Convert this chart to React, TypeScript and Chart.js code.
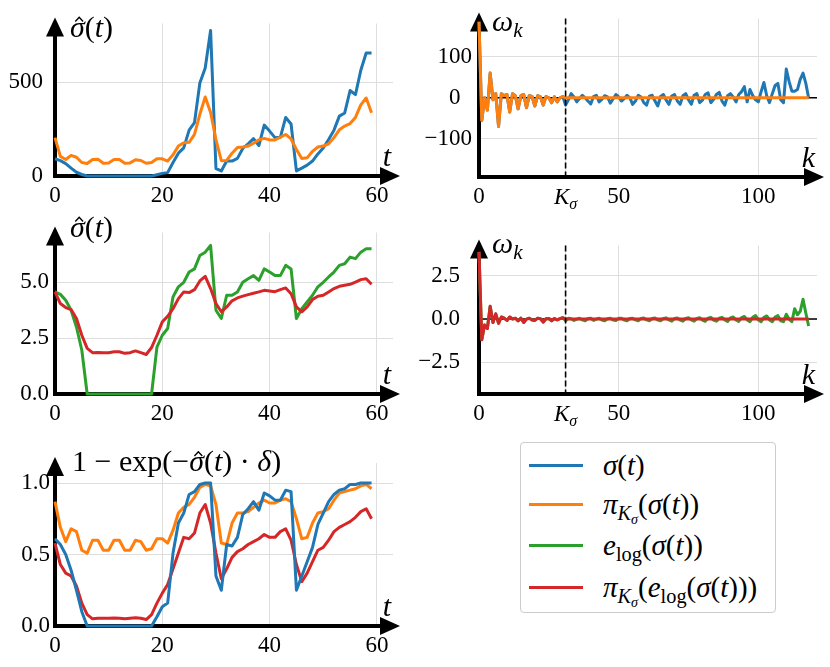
import React, { useEffect, useRef } from 'react';
import { Chart, registerables } from 'chart.js';

Chart.register(...registerables);

// ---------------- data ----------------
const tIndex = Array.from({ length: 60 }, (_, i) => i);
const kIndex = Array.from({ length: 119 }, (_, i) => i);
const K_SIGMA = 31;

// sigma(t)
const sigma = [92, 82, 66, 42, 20, 8, 0, 0, 0, 0, 0, 0, 0, 0, 0, 0, 0, 0, 0, 7, 14, 18, 72, 122, 150, 245, 285, 497, 577, 778,
  40, 27, 80, 80, 94, 147, 172, 200, 163, 272, 240, 205, 207, 313, 278, 27, 42, 58, 80, 118, 150, 195, 245, 320, 337, 457, 435, 565, 657, 657];
// pi_K(sigma(t))
const piSigma = [205, 105, 88, 110, 100, 72, 67, 88, 90, 68, 70, 88, 88, 68, 70, 87, 83, 68, 72, 92, 92, 80, 113, 160, 177, 180, 222, 330, 422, 340,
  195, 82, 83, 122, 152, 155, 160, 175, 193, 201, 193, 193, 207, 222, 198, 142, 93, 97, 132, 155, 160, 172, 205, 247, 267, 280, 313, 380, 417, 338];
// e_log(sigma(t))
const logSigma = [4.57, 4.46, 4.2, 3.75, 3.0, 1.96, 0, 0, 0, 0, 0, 0, 0, 0, 0, 0, 0, 0, 0, 2.1, 2.63, 2.93, 4.35, 4.8, 5.0, 5.46, 5.6, 6.2, 6.35, 6.65,
  3.75, 3.38, 4.42, 4.42, 4.57, 5.0, 5.16, 5.3, 5.09, 5.6, 5.46, 5.3, 5.3, 5.76, 5.6, 3.38, 3.82, 4.12, 4.42, 4.8, 5.0, 5.24, 5.46, 5.76, 5.83, 6.13, 6.06, 6.35, 6.5, 6.5];
// pi_K(e_log(sigma(t)))
const piLogSigma = [4.57, 4.05, 3.87, 3.78, 3.38, 2.63, 2.04, 1.85, 1.86, 1.85, 1.85, 1.89, 1.89, 1.82, 1.85, 1.93, 1.85, 1.77, 2.08, 2.63,
  3.23, 3.48, 3.82, 4.27, 4.57, 4.54, 4.67, 5.06, 5.27, 4.72, 4.05, 3.68, 3.9, 4.17, 4.3, 4.38, 4.45, 4.51, 4.57, 4.64,
  4.61, 4.58, 4.67, 4.75, 4.49, 3.9, 3.68, 3.9, 4.23, 4.38, 4.42, 4.57, 4.72, 4.82, 4.87, 4.91, 5.01, 5.12, 5.16, 4.91];
// 1 - exp(-sigma * delta) for the three signals
const expSigma = [0.61, 0.57, 0.5, 0.39, 0.25, 0.1, 0, 0, 0, 0, 0, 0, 0, 0, 0, 0, 0, 0, 0, 0.065, 0.135, 0.16, 0.51, 0.72, 0.79, 0.92, 0.94, 0.99, 1.0, 1.0,
  0.35, 0.25, 0.57, 0.56, 0.62, 0.78, 0.82, 0.87, 0.81, 0.93, 0.91, 0.88, 0.88, 0.95, 0.94, 0.25, 0.35, 0.45, 0.55, 0.71, 0.79, 0.87, 0.92, 0.95, 0.96, 0.99, 0.99, 1.0, 1.0, 1.0];
const expPiSigma = [0.87, 0.69, 0.59, 0.68, 0.66, 0.53, 0.51, 0.6, 0.6, 0.53, 0.53, 0.6, 0.6, 0.53, 0.53, 0.6, 0.59, 0.53, 0.54, 0.61,
  0.61, 0.58, 0.67, 0.79, 0.83, 0.85, 0.9, 0.97, 0.99, 0.98, 0.85, 0.58, 0.57, 0.72, 0.79, 0.79, 0.8, 0.83, 0.86, 0.88,
  0.86, 0.86, 0.88, 0.89, 0.87, 0.75, 0.61, 0.62, 0.72, 0.79, 0.8, 0.82, 0.88, 0.93, 0.94, 0.95, 0.96, 0.98, 0.99, 0.96];
const expPiLogSigma = [0.58, 0.43, 0.37, 0.35, 0.28, 0.16, 0.08, 0.05, 0.054, 0.054, 0.054, 0.056, 0.054, 0.05, 0.054, 0.058, 0.054, 0.045, 0.08, 0.16,
  0.23, 0.29, 0.4, 0.51, 0.62, 0.61, 0.65, 0.79, 0.85, 0.72, 0.51, 0.33, 0.4, 0.48, 0.52, 0.54, 0.57, 0.59, 0.61, 0.64,
  0.62, 0.62, 0.66, 0.68, 0.6, 0.43, 0.31, 0.37, 0.45, 0.53, 0.55, 0.6, 0.66, 0.69, 0.71, 0.73, 0.76, 0.8, 0.82, 0.75];

// spectrum of sigma: k = 0..30 (kept by pi_K) and k = 31..118
const omegaHead = [185, -55, 0, -30, 60, -5, 10, -70, 10, 5, 8, -35, 10, 5, -27, 5, 8, -24, 5, 3, -20, 5, 2, -18, 3, 0, -12, 2, -10, 0, 3];
const omegaTail = [-18, -5, 10, 2, -10, -2, 6, 0, -8, -15,
  3, 6, -10, -4, 5, 2, -13, -3, 8, 2,
  -8, -2, 6, 0, -16, -8, 6, 2, -12, -18,
  4, 6, -8, -20, 3, 8, -6, -16, 4, 8,
  -8, -16, 5, 10, -5, -16, 6, 10, -12, -6,
  8, 12, -12, -4, 8, 13, -8, -18, 5, 10,
  2, -10, 8, 15, 27, -10, 20, 5, -5, -10,
  15, 37, 5, -12, 10, 30, 35, -5, -12, 70,
  40, 16, 16, 20, 45, 60, 35, 0];
// spectrum of e_log(sigma)
const omegaLogHead = [3.9, -1.2, -0.35, -0.55, 0.75, -0.2, 0.3, -0.25, 0.12, 0.05, -0.08, 0.12, 0.0, 0.05, -0.1, 0.05, -0.2, 0.0, 0.05, -0.05,
  -0.08, 0.05, 0.02, -0.18, 0.02, 0.03, -0.1, 0.03, -0.05, 0.02, 0.08];
const omegaLogTail = [-0.1, 0.05, 0.02, -0.08, 0.0, 0.05, -0.05, -0.1, 0.03, 0.05,
  -0.08, 0.0, 0.05, -0.06, -0.1, 0.02, 0.05, -0.05, -0.08, 0.04,
  0.05, -0.06, -0.1, 0.03, 0.05, -0.05, -0.1, 0.04, 0.06, -0.05,
  -0.1, 0.03, 0.06, -0.06, -0.1, 0.03, 0.07, -0.05, -0.12, 0.03,
  0.06, -0.06, -0.12, 0.04, 0.08, -0.05, -0.12, 0.04, 0.08, -0.06,
  -0.13, 0.05, 0.1, -0.06, -0.12, 0.05, 0.1, -0.05, -0.14, 0.06,
  0.12, -0.05, -0.14, 0.08, 0.15, -0.05, -0.15, 0.1, 0.2, -0.05,
  -0.15, 0.1, 0.18, -0.05, -0.15, 0.12, 0.2, -0.1, -0.15, 0.28,
  0.0, -0.15, 0.6, 0.25, 0.45, 1.15, 0.35, -0.4];

const omegaSigma = omegaHead.concat(omegaTail);
const omegaPiSigma = omegaHead.concat(omegaTail.map(() => 0));
const omegaLog = omegaLogHead.concat(omegaLogTail);
const omegaPiLog = omegaLogHead.concat(omegaLogTail.map(() => 0));

// ticks
const tTicks = [0, 20, 40, 60];
const tTickLabels = ['0', '20', '40', '60'];
const kTicks = [0, K_SIGMA, 50, 100];
const kTickLabels = ['0', '', '50', '100'];
const sigmaTicks = [0, 500];
const sigmaTickLabels = ['0', '500'];
const logTicks = [0, 2.5, 5];
const logTickLabels = ['0.0', '2.5', '5.0'];
const expTicks = [0, 0.5, 1];
const expTickLabels = ['0.0', '0.5', '1.0'];
const omegaTicks = [-100, 0, 100];
const omegaTickLabels = ['\u2212100', '0\u2007', '100'];
const omegaLogTicks = [-2.5, 0, 2.5];
const omegaLogTickLabels = ['\u22122.5', '0.0', '2.5'];

// ---------------- style ----------------
const BLUE = '#1f77b4';
const ORANGE = '#ff7f0e';
const GREEN = '#2ca02c';
const RED = '#d62728';
const GRID = '#dedede';
const FONT = '"Liberation Serif", "DejaVu Serif", serif';
const TICK_SIZE = 23;
const LABEL_SIZE = 30;

type Piece = { t: string; it?: boolean; sub?: boolean; hat?: boolean };

const SIGMA_HAT_T: Piece[] = [{ t: '\u03C3', it: true, hat: true }, { t: '(' }, { t: 't', it: true }, { t: ')' }];
const OMEGA_K: Piece[] = [{ t: '\u03C9', it: true }, { t: 'k', it: true, sub: true }];
const EXP_LABEL: Piece[] = [
  { t: '1 \u2212 exp(\u2212' }, { t: '\u03C3', it: true, hat: true }, { t: '(' }, { t: 't', it: true },
  { t: ') \u00B7 ' }, { t: '\u03B4', it: true }, { t: ')' },
];
const K_SIGMA_LABEL: Piece[] = [{ t: 'K', it: true }, { t: '\u03C3', it: true, sub: true }];

function drawMath(ctx: CanvasRenderingContext2D, pieces: Piece[], x: number, y: number, size: number, align: 'left' | 'center' | 'right') {
  const fontOf = (p: Piece) => `${p.it ? 'italic ' : ''}${p.sub ? Math.round(size * 0.7) : size}px ${FONT}`;
  let total = 0;
  for (const p of pieces) {
    ctx.font = fontOf(p);
    total += ctx.measureText(p.t).width;
  }
  let cx = align === 'left' ? x : align === 'center' ? x - total / 2 : x - total;
  ctx.textBaseline = 'alphabetic';
  ctx.textAlign = 'left';
  for (const p of pieces) {
    ctx.font = fontOf(p);
    const w = ctx.measureText(p.t).width;
    ctx.fillText(p.t, cx, y + (p.sub ? size * 0.22 : 0));
    if (p.hat) {
      // circumflex accent over the glyph
      const hx = cx + w / 2 + size * 0.06;
      ctx.save();
      ctx.strokeStyle = '#000';
      ctx.lineWidth = Math.max(1.2, size * 0.045);
      ctx.lineJoin = 'miter';
      ctx.beginPath();
      ctx.moveTo(hx - size * 0.13, y - size * 0.5);
      ctx.lineTo(hx, y - size * 0.64);
      ctx.lineTo(hx + size * 0.13, y - size * 0.5);
      ctx.stroke();
      ctx.restore();
    }
    cx += w;
  }
}

type Series = { x: number[]; y: number[]; color: string };
type Spec = {
  id: string;
  x: number; y: number; w: number; h: number;
  yW: number; xH: number; padTop: number; padRight: number;
  xMin: number; xMax: number; yMin: number; yMax: number;
  xTicks: number[]; xTickLabels: string[]; yTicks: number[]; yTickLabels: string[];
  xPad: number; yPad: number;
  yLabel: Piece[]; yLabelDx: number; yLabelDy: number; xLabel: string;
  zeroLine?: boolean; kLine?: number;
  series: Series[]; // first one is drawn on top
};

const PANELS: Spec[] = [
  {
    id: 'tl', x: 0, y: 0, w: 410, h: 215, yW: 55, xH: 39, padTop: 13, padRight: 17,
    xMin: 0, xMax: 63, yMin: 0, yMax: 815,
    xTicks: tTicks, xTickLabels: tTickLabels, yTicks: sigmaTicks, yTickLabels: sigmaTickLabels,
    xPad: 8, yPad: 12, yLabel: SIGMA_HAT_T, yLabelDx: 15, yLabelDy: 13, xLabel: 't',
    series: [{ x: tIndex, y: piSigma, color: ORANGE }, { x: tIndex, y: sigma, color: BLUE }],
  },
  {
    id: 'ml', x: 0, y: 215, w: 410, h: 215, yW: 55, xH: 36, padTop: 17, padRight: 17,
    xMin: 0, xMax: 63, yMin: 0, yMax: 7.23,
    xTicks: tTicks, xTickLabels: tTickLabels, yTicks: logTicks, yTickLabels: logTickLabels,
    xPad: 8, yPad: 6, yLabel: SIGMA_HAT_T, yLabelDx: 15, yLabelDy: 4, xLabel: 't',
    series: [{ x: tIndex, y: piLogSigma, color: RED }, { x: tIndex, y: logSigma, color: GREEN }],
  },
  {
    id: 'bl', x: 0, y: 430, w: 410, h: 237, yW: 55, xH: 41, padTop: 33, padRight: 17,
    xMin: 0, xMax: 63, yMin: 0, yMax: 1.14,
    xTicks: tTicks, xTickLabels: tTickLabels, yTicks: expTicks, yTickLabels: expTickLabels,
    xPad: 8, yPad: 5, yLabel: EXP_LABEL, yLabelDx: 17, yLabelDy: 8, xLabel: 't',
    series: [
      { x: tIndex, y: expSigma, color: BLUE },
      { x: tIndex, y: expPiLogSigma, color: RED },
      { x: tIndex, y: expPiSigma, color: ORANGE },
    ],
  },
  {
    id: 'tr', x: 410, y: 0, w: 420, h: 215, yW: 69, xH: 38, padTop: 13, padRight: 13,
    xMin: 0, xMax: 121, yMin: -193, yMax: 193,
    xTicks: kTicks, xTickLabels: kTickLabels, yTicks: omegaTicks, yTickLabels: omegaTickLabels,
    xPad: 8, yPad: 7, yLabel: OMEGA_K, yLabelDx: 13, yLabelDy: 12, xLabel: 'k',
    zeroLine: true, kLine: K_SIGMA,
    series: [{ x: kIndex, y: omegaPiSigma, color: ORANGE }, { x: kIndex, y: omegaSigma, color: BLUE }],
  },
  {
    id: 'mr', x: 410, y: 215, w: 420, h: 215, yW: 69, xH: 36, padTop: 17, padRight: 13,
    xMin: 0, xMax: 121, yMin: -4.35, yMax: 4.27,
    xTicks: kTicks, xTickLabels: kTickLabels, yTicks: omegaLogTicks, yTickLabels: omegaLogTickLabels,
    xPad: 8, yPad: 19, yLabel: OMEGA_K, yLabelDx: 13, yLabelDy: 7, xLabel: 'k',
    zeroLine: true, kLine: K_SIGMA,
    series: [{ x: kIndex, y: omegaPiLog, color: RED }, { x: kIndex, y: omegaLog, color: GREEN }],
  },
];

function buildConfig(s: Spec): any {
  const decor = {
    id: 'decor_' + s.id,
    beforeDatasetsDraw(chart: any) {
      const ctx: CanvasRenderingContext2D = chart.ctx;
      const a = chart.chartArea;
      ctx.save();
      if (s.zeroLine) {
        const y0 = chart.scales.y.getPixelForValue(0);
        ctx.strokeStyle = '#000';
        ctx.lineWidth = 1.5;
        ctx.beginPath();
        ctx.moveTo(a.left, y0);
        ctx.lineTo(a.right, y0);
        ctx.stroke();
      }
      // spines with arrow heads
      ctx.strokeStyle = '#000';
      ctx.fillStyle = '#000';
      ctx.lineWidth = 4;
      ctx.beginPath();
      ctx.moveTo(a.left, a.bottom + 2);
      ctx.lineTo(a.left, a.top);
      ctx.stroke();
      ctx.beginPath();
      ctx.moveTo(a.left - 2, a.bottom);
      ctx.lineTo(a.right, a.bottom);
      ctx.stroke();
      ctx.beginPath();
      ctx.moveTo(a.left, a.top - 6);
      ctx.lineTo(a.left - 9, a.top + 13);
      ctx.lineTo(a.left + 9, a.top + 13);
      ctx.closePath();
      ctx.fill();
      ctx.beginPath();
      ctx.moveTo(a.right + 7, a.bottom);
      ctx.lineTo(a.right - 13, a.bottom - 9);
      ctx.lineTo(a.right - 13, a.bottom + 9);
      ctx.closePath();
      ctx.fill();
      ctx.restore();
    },
    afterDatasetsDraw(chart: any) {
      const ctx: CanvasRenderingContext2D = chart.ctx;
      const a = chart.chartArea;
      ctx.save();
      ctx.fillStyle = '#000';
      if (s.kLine !== undefined) {
        const x = chart.scales.x.getPixelForValue(s.kLine);
        ctx.strokeStyle = '#000';
        ctx.lineWidth = 1.6;
        ctx.setLineDash([6, 3]);
        ctx.beginPath();
        ctx.moveTo(x, a.top);
        ctx.lineTo(x, a.bottom);
        ctx.stroke();
        ctx.setLineDash([]);
        const cy = a.bottom + s.xPad + TICK_SIZE / 2;
        drawMath(ctx, K_SIGMA_LABEL, x, cy + TICK_SIZE * 0.338, TICK_SIZE, 'center');
      }
      drawMath(ctx, s.yLabel, a.left + s.yLabelDx, a.top + s.yLabelDy, LABEL_SIZE, 'left');
      drawMath(ctx, [{ t: s.xLabel, it: true }], a.right - 2, a.bottom - 10, LABEL_SIZE, 'right');
      ctx.restore();
    },
  };

  const tickFont = { family: FONT, size: TICK_SIZE, lineHeight: 1 };
  return {
    type: 'line',
    data: {
      datasets: s.series.map((ser) => ({
        data: ser.x.map((xv, i) => ({ x: xv, y: ser.y[i] })),
        borderColor: ser.color,
        backgroundColor: ser.color,
        borderWidth: 3,
        pointRadius: 0,
        tension: 0,
        fill: false,
        borderJoinStyle: 'round',
        clip: 4,
      })),
    },
    options: {
      animation: false,
      responsive: false,
      events: [],
      layout: { padding: { left: 0, top: s.padTop, right: s.padRight, bottom: 0 } },
      plugins: { legend: { display: false }, tooltip: { enabled: false } },
      scales: {
        x: {
          type: 'linear',
          min: s.xMin,
          max: s.xMax,
          afterFit: (sc: any) => { sc.height = s.xH; },
          afterBuildTicks: (sc: any) => { sc.ticks = s.xTicks.map((v) => ({ value: v })); },
          ticks: {
            callback: (_v: any, i: number) => s.xTickLabels[i],
            font: tickFont, color: '#000', padding: s.xPad, maxRotation: 0, autoSkip: false,
          },
          grid: { color: GRID, lineWidth: 1, drawTicks: false },
          border: { display: false },
        },
        y: {
          type: 'linear',
          min: s.yMin,
          max: s.yMax,
          afterFit: (sc: any) => { sc.width = s.yW; },
          afterBuildTicks: (sc: any) => { sc.ticks = s.yTicks.map((v) => ({ value: v })); },
          ticks: {
            callback: (_v: any, i: number) => s.yTickLabels[i],
            font: tickFont, color: '#000', padding: s.yPad, autoSkip: false,
          },
          grid: { color: GRID, lineWidth: 1, drawTicks: false },
          border: { display: false },
        },
      },
    },
    plugins: [decor],
  };
}

function Panel({ spec }: { spec: Spec }) {
  const ref = useRef<HTMLCanvasElement>(null);
  useEffect(() => {
    const chart = new Chart(ref.current as HTMLCanvasElement, buildConfig(spec));
    return () => chart.destroy();
  }, [spec]);
  return (
    <canvas
      ref={ref}
      width={spec.w}
      height={spec.h}
      style={{ position: 'absolute', left: spec.x, top: spec.y, width: spec.w, height: spec.h }}
    />
  );
}

const subStyle: React.CSSProperties = { fontSize: '0.7em', verticalAlign: '-0.3em', lineHeight: 0 };
const I = ({ children }: { children: React.ReactNode }) => <i>{children}</i>;
const Kσ = () => (
  <span style={subStyle}>
    <I>K</I>
    <span style={subStyle}><I>σ</I></span>
  </span>
);
const Elog = () => (
  <>
    <I>e</I>
    <span style={subStyle}>log</span>
  </>
);

const LEGEND_ITEMS: { color: string; label: React.ReactNode }[] = [
  { color: BLUE, label: <><I>σ</I>(<I>t</I>)</> },
  { color: ORANGE, label: <><I>π</I><Kσ />(<I>σ</I>(<I>t</I>))</> },
  { color: GREEN, label: <><Elog />(<I>σ</I>(<I>t</I>))</> },
  { color: RED, label: <><I>π</I><Kσ />(<Elog />(<I>σ</I>(<I>t</I>)))</> },
];
const LEGEND_ROW_CENTERS = [22, 61, 102, 144];

function Legend() {
  return (
    <div
      style={{
        position: 'absolute', left: 520, top: 442, width: 254, height: 169,
        border: '1px solid #cccccc', borderRadius: 4, background: '#fff',
        fontFamily: FONT, fontSize: 29, color: '#000',
      }}
    >
      {LEGEND_ITEMS.map((it, i) => (
        <div
          key={i}
          style={{
            position: 'absolute', left: 0, top: LEGEND_ROW_CENTERS[i] - 18, height: 36,
            display: 'flex', alignItems: 'center', whiteSpace: 'nowrap',
          }}
        >
          <span style={{ display: 'inline-block', width: 54, height: 3, background: it.color, marginLeft: 8 }} />
          <span style={{ marginLeft: 20, lineHeight: '36px' }}>{it.label}</span>
        </div>
      ))}
    </div>
  );
}

export default function App() {
  return (
    <div style={{ position: 'absolute', left: 0, top: 0, width: 830, height: 667, background: '#fff', overflow: 'hidden' }}>
      {PANELS.map((p) => (
        <Panel key={p.id} spec={p} />
      ))}
      <Legend />
    </div>
  );
}
